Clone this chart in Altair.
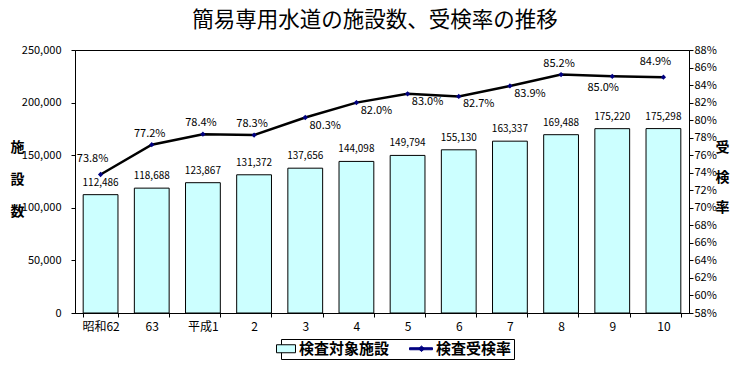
import altair as alt
import pandas as pd

# ---- data ----
categories = ["昭和62", "63", "平成1", "2", "3", "4", "5", "6", "7", "8", "9", "10"]
facilities = [112486, 118688, 123867, 131372, 137656, 144098, 149794, 155130, 163337, 169488, 175220, 175298]
rates = [0.738, 0.772, 0.784, 0.783, 0.803, 0.820, 0.830, 0.827, 0.839, 0.852, 0.850, 0.849]
left_ticks = [0, 50000, 100000, 150000, 200000, 250000]
right_ticks = [0.58, 0.60, 0.62, 0.64, 0.66, 0.68, 0.70, 0.72, 0.74, 0.76, 0.78, 0.80, 0.82, 0.84, 0.86, 0.88]
series_names = ["検査対象施設", "検査受検率"]
title_text = "簡易専用水道の施設数、受検率の推移"

df = pd.DataFrame({"cat": categories, "n": facilities, "rate": rates,
                   "series": [series_names[0]] * len(categories)})

FONT = "Noto Sans CJK JP"
BAR_FILL = "#CCFFFF"
NAVY = "#000080"

x_enc = alt.X(
    "cat:N", sort=categories,
    scale=alt.Scale(paddingInner=0.32, paddingOuter=0.16),
    axis=alt.Axis(title=None, labelAngle=0, tickBand="extent", tickSize=4,
                  labelPadding=4, labelFontSize=12),
)

y_left = alt.Y(
    "n:Q",
    scale=alt.Scale(domain=[0, 250000], nice=False),
    axis=alt.Axis(values=left_ticks, format=",.0f", tickSize=4, labelPadding=10,
                  title=["施", "設", "数"], titleAngle=0, titleX=-58, titleY=97,
                  titleAlign="center", titleBaseline="middle", titleLineHeight=32,
                  titleFontSize=14, titleFontWeight="bold", titleFont=FONT),
)

y_right = alt.Y(
    "rate:Q",
    scale=alt.Scale(domain=[0.58, 0.88], nice=False, zero=False),
    axis=alt.Axis(orient="right", values=right_ticks, format=".0%", tickSize=4,
                  labelPadding=1, title=["受", "検", "率"], titleAngle=0,
                  titleX=33, titleY=97, titleAlign="center", titleBaseline="middle",
                  titleLineHeight=30, titleFontSize=14, titleFontWeight="bold",
                  titleFont=FONT),
)

base = alt.Chart(df)

# legend symbols (unit box scaled by sqrt(symbolSize)/2)
pathA = "M-2.8,-0.8H1V0.8H-2.8Z"
pathB = "M-3.6,-0.2H1V0.2H-3.6Z M-1.2,-0.55L-0.6,0L-1.2,0.55L-1.8,0Z"

bars = base.mark_bar(fill=BAR_FILL, stroke="black", strokeWidth=1).encode(x=x_enc, y=y_left)
bar_text = base.mark_text(dy=-12, fontSize=10, font=FONT, baseline="middle").encode(
    x=x_enc, y=y_left, text=alt.Text("n:Q", format=",.0f"))
legend_pts = base.mark_point(filled=True, size=0).encode(
    x=x_enc, y=y_left,
    fill=alt.Fill("series:N", scale=alt.Scale(domain=series_names, range=[BAR_FILL, NAVY]),
                  legend=alt.Legend(title=None)),
    stroke=alt.Stroke("series:N", scale=alt.Scale(domain=series_names, range=["black", NAVY]),
                      legend=alt.Legend(title=None)),
    shape=alt.Shape("series:N", scale=alt.Scale(domain=series_names, range=[pathA, pathB]),
                    legend=alt.Legend(title=None)),
)
left = alt.layer(bars, bar_text, legend_pts)

line = base.mark_line(color="black", strokeWidth=2.5).encode(x=x_enc, y=y_right)
pts = base.mark_point(shape="diamond", filled=True, color=NAVY, size=28, opacity=1).encode(x=x_enc, y=y_right)


def rate_labels(idx, dx, dy):
    cats = [categories[i] for i in idx]
    return base.transform_filter(alt.FieldOneOfPredicate(field="cat", oneOf=cats)).transform_calculate(
        lbl="format(datum.rate, '.1%')"
    ).mark_text(dx=dx, dy=dy, fontSize=11, font=FONT, baseline="middle").encode(
        x=x_enc, y=y_right, text="lbl:N")


right = alt.layer(
    line, pts,
    rate_labels([1, 2, 3, 9], -2, -11),
    rate_labels([0, 11], -8, -15),
    rate_labels([4, 5, 6, 7, 8], 20, 8),
    rate_labels([10], -9, 12),
)

chart = alt.layer(left, right).resolve_scale(y="independent").properties(
    width=614, height=263,
    title=alt.TitleParams(title_text, fontSize=21.5, font=FONT, fontWeight="normal",
                          anchor="middle", dx=-7, offset=13, color="black"),
    autosize=alt.AutoSizeParams(type="none"),
    padding={"left": 75, "top": 50, "right": 55, "bottom": 59},
).configure_view(stroke="black", strokeWidth=1).configure_axis(
    grid=False, domainColor="black", tickColor="black", labelColor="black",
    labelFont=FONT, labelFontSize=11, titleColor="black",
).configure_legend(
    orient="none", legendX=206, legendY=289, direction="horizontal",
    strokeColor="black", fillColor="white", padding=2, cornerRadius=0,
    symbolSize=100, symbolStrokeWidth=1, symbolOpacity=1,
    labelFont=FONT, labelFontSize=15, labelFontWeight="bold", labelColor="black",
    labelOffset=1, columnPadding=17,
)

chart.save("out.html", embed_options={"renderer": "svg", "actions": False})
